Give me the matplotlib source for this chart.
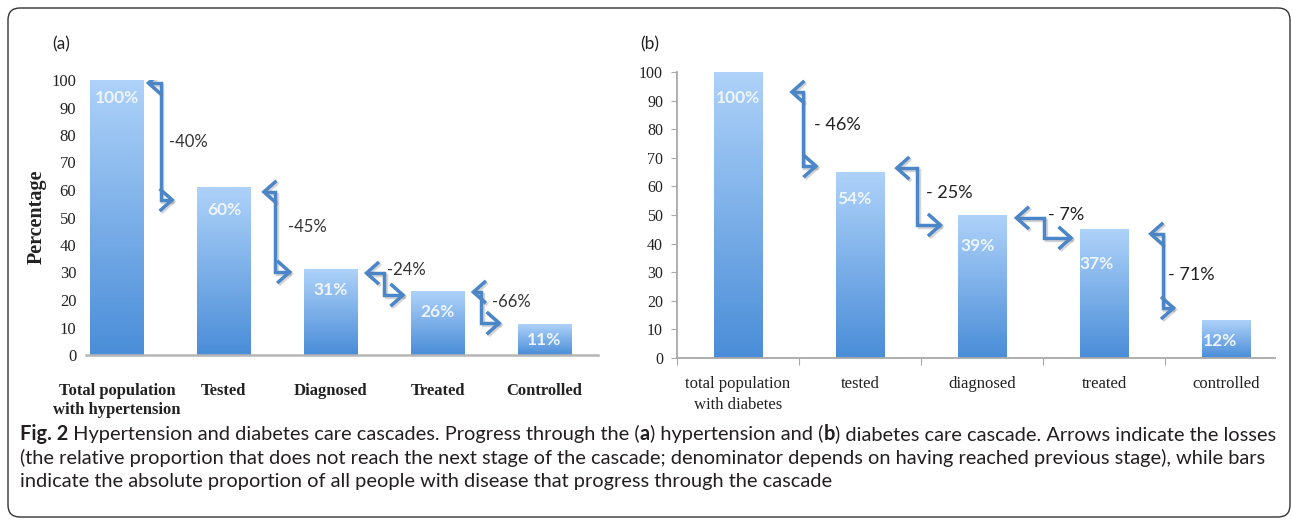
import matplotlib
matplotlib.use("Agg")
import matplotlib.pyplot as plt
import matplotlib.transforms as mtransforms
import numpy as np
from matplotlib.patches import FancyBboxPatch, FancyArrowPatch
from matplotlib.path import Path
from matplotlib.colors import LinearSegmentedColormap
import matplotlib.patheffects as pe

# ---------------- data ----------------
cats_a = ["Total population\nwith hypertension", "Tested", "Diagnosed", "Treated", "Controlled"]
heights_a = [100, 61, 31, 23, 11]
labels_a = ["100%", "60%", "31%", "26%", "11%"]
loss_a = ["-40%", "-45%", "-24%", "-66%"]

cats_b = ["total population\nwith diabetes", "tested", "diagnosed", "treated", "controlled"]
heights_b = [100, 65, 50, 45, 13]
labels_b = ["100%", "54%", "39%", "37%", "12%"]
loss_b = ["- 46%", "- 25%", "- 7%", "- 71%"]

yticks = list(range(0, 101, 10))

# annotation geometry (x_start, x_elbow, x_end, y_top, y_bottom)
arrows_a = [(0.27, 0.41, 0.54, 98.9, 56.4), (1.35, 1.48, 1.64, 59.3, 30.2),
            (2.31, 2.50, 2.70, 29.8, 21.8), (3.31, 3.41, 3.60, 22.9, 11.6)]
loss_pos_a = [(0.49, 77.5), (1.60, 46.5), (2.53, 31.0), (3.51, 19.3)]
label_y_a = [93.5, 52.7, 23.6, 15.6, 5.5]

arrows_b = [(0.42, 0.53, 0.66, 93.0, 67.1), (1.28, 1.47, 1.68, 66.4, 46.5),
            (2.26, 2.51, 2.75, 49.0, 42.0), (3.36, 3.48, 3.59, 43.4, 17.5)]
loss_pos_b = [(0.62, 81.5), (1.54, 57.7), (2.54, 50.0), (3.52, 29.0)]
label_y_b = [90.9, 55.6, 39.2, 32.9, 6.0]
label_dx_b = [0.0, -0.05, -0.04, -0.06, -0.05]

# ---------------- styling ----------------
W, H = 1292, 521
fig = plt.figure(figsize=(W / 100, H / 100), dpi=100)
fig.patch.set_facecolor("white")

SERIF = ["Liberation Serif", "DejaVu Serif"]
SANS = ["Lato", "DejaVu Sans"]
ARROW_C = "#4a86c8"
grad_cmap = LinearSegmentedColormap.from_list("g", ["#4a8dd8", "#aed2f9"])
grad = np.linspace(0, 1, 256).reshape(-1, 1)


def fy(py):
    return 1 - py / H


def draw_bars(ax, heights, width):
    bars = ax.bar(range(len(heights)), heights, width=width, facecolor="none", edgecolor="none", zorder=2)
    for b in bars:
        x0, y0 = b.get_x(), b.get_y()
        ax.imshow(grad, extent=[x0, x0 + b.get_width(), y0, y0 + b.get_height()],
                  origin="lower", aspect="auto", cmap=grad_cmap, zorder=2, interpolation="bilinear")
    return bars


def draw_arrows(ax, arrows):
    for (xs, xm, xe, yt, yb) in arrows:
        p = Path([(xs, yt), (xm, yt), (xm, yb), (xe, yb)])
        a = FancyArrowPatch(path=p, arrowstyle="<->,head_length=0.45,head_width=0.4",
                            mutation_scale=20, lw=2.5, color=ARROW_C, zorder=4, fill=False,
                            joinstyle="miter", capstyle="butt", transform=ax.transData)
        a.set_path_effects([pe.SimpleLineShadow(offset=(1.2, -1.2), shadow_color="#777777", alpha=0.3),
                            pe.Normal()])
        ax.add_patch(a)


# ---------------- panel (a) ----------------
axa = fig.add_axes([86 / W, 166 / H, 512 / W, 275 / H])
draw_bars(axa, heights_a, 0.5)
axa.set_xlim(-0.29, 4.5)
axa.set_ylim(0, 100)
for s in ["left", "top", "right"]:
    axa.spines[s].set_visible(False)
axa.spines["bottom"].set_color("#b5b5b5")
axa.spines["bottom"].set_linewidth(1.8)
axa.set_yticks(yticks)
axa.set_yticklabels([str(v) for v in yticks], family=SERIF, fontsize=12, color="#222222")
axa.tick_params(axis="y", length=0, pad=7)
axa.set_xticks(range(len(cats_a)))
axa.set_xticklabels(cats_a, family=SERIF, fontsize=12, color="#222222", linespacing=1.3)
axa.tick_params(axis="x", length=0, pad=20)
for lab in axa.get_xticklabels():
    lab.set_fontweight("bold")
for i, t in enumerate(labels_a):
    axa.text(i, label_y_a[i], t, ha="center", va="center", color="#eef5ff",
             fontsize=12.5, fontweight="bold", family=SANS, zorder=5)
draw_arrows(axa, arrows_a)
for (x, y), t in zip(loss_pos_a, loss_a):
    axa.text(x, y, t, ha="left", va="center", fontsize=12, color="#333333", family=SANS, zorder=5)

fig.text(37 / W, fy(217), "Percentage", rotation=90, ha="center", va="center",
         family=SERIF, fontweight="bold", fontsize=14.5, color="#222222")
fig.text(52 / W, fy(44), "(a)", ha="left", va="center", family=SANS, fontsize=12.5, color="#222222")

# ---------------- panel (b) ----------------
axb = fig.add_axes([677 / W, 163 / H, 598 / W, 286 / H])
draw_bars(axb, heights_b, 0.4)
axb.set_xlim(-0.5, 4.4)
axb.set_ylim(0, 100)
for s in ["top", "right"]:
    axb.spines[s].set_visible(False)
for s in ["left", "bottom"]:
    axb.spines[s].set_color("#a8a8a8")
    axb.spines[s].set_linewidth(1.3)
axb.set_yticks(yticks)
axb.set_yticklabels([str(v) for v in yticks], family=SERIF, fontsize=11.5, color="#222222")
axb.tick_params(axis="y", length=4, color="#a8a8a8", pad=6)
axb.set_xticks([i - 0.5 for i in range(len(cats_b))])
axb.set_xticklabels([])
axb.tick_params(axis="x", which="major", length=5, color="#a8a8a8", direction="out")
axb.set_xticks(range(len(cats_b)), minor=True)
axb.set_xticklabels(cats_b, minor=True, family=SERIF, fontsize=12, color="#222222", linespacing=1.4)
axb.tick_params(axis="x", which="minor", length=0, pad=13)
for i, t in enumerate(labels_b):
    axb.text(i + label_dx_b[i], label_y_b[i], t, ha="center", va="center", color="#eef5ff",
             fontsize=12.5, fontweight="bold", family=SANS, zorder=5)
draw_arrows(axb, arrows_b)
for (x, y), t in zip(loss_pos_b, loss_b):
    axb.text(x, y, t, ha="left", va="center", fontsize=13, color="#222222", family=SANS, zorder=5)

fig.text(640 / W, fy(44), "(b)", ha="left", va="center", family=SANS, fontsize=12.5, color="#222222")

# ---------------- border ----------------
box = FancyBboxPatch((8, 4), 1282, 509, boxstyle="round,pad=0,rounding_size=12",
                     facecolor="none", edgecolor="#333333", lw=1.0)
box.set_transform(mtransforms.IdentityTransform())
fig.patches.append(box)

# ---------------- caption ----------------
cap_lines = [
    [("Fig. 2", "bold"), (" Hypertension and diabetes care cascades. Progress through the (", "normal"),
     ("a", "bold"), (") hypertension and (", "normal"), ("b", "bold"),
     (") diabetes care cascade. Arrows indicate the losses", "normal")],
    [("(the relative proportion that does not reach the next stage of the cascade; denominator depends on "
      "having reached previous stage), while bars", "normal")],
    [("indicate the absolute proportion of all people with disease that progress through the cascade", "normal")],
]
cap_y = [434, 458, 482]
renderer = fig.canvas.get_renderer()


def line_width(parts, size):
    total = 0
    for txt, wt in parts:
        t = fig.text(0, 0, txt, fontsize=size, fontweight=wt, family=SANS)
        total += t.get_window_extent(renderer).width
        t.remove()
    return total


base = 12
cap_size = base * 1253 / line_width(cap_lines[0], base)
for parts, yy in zip(cap_lines, cap_y):
    x = 20
    for txt, wt in parts:
        t = fig.text(x / W, fy(yy), txt, fontsize=cap_size, fontweight=wt, family=SANS,
                     color="#231f20", ha="left", va="center")
        x += t.get_window_extent(renderer).width

fig.savefig("out.png", dpi=100, facecolor="white")
